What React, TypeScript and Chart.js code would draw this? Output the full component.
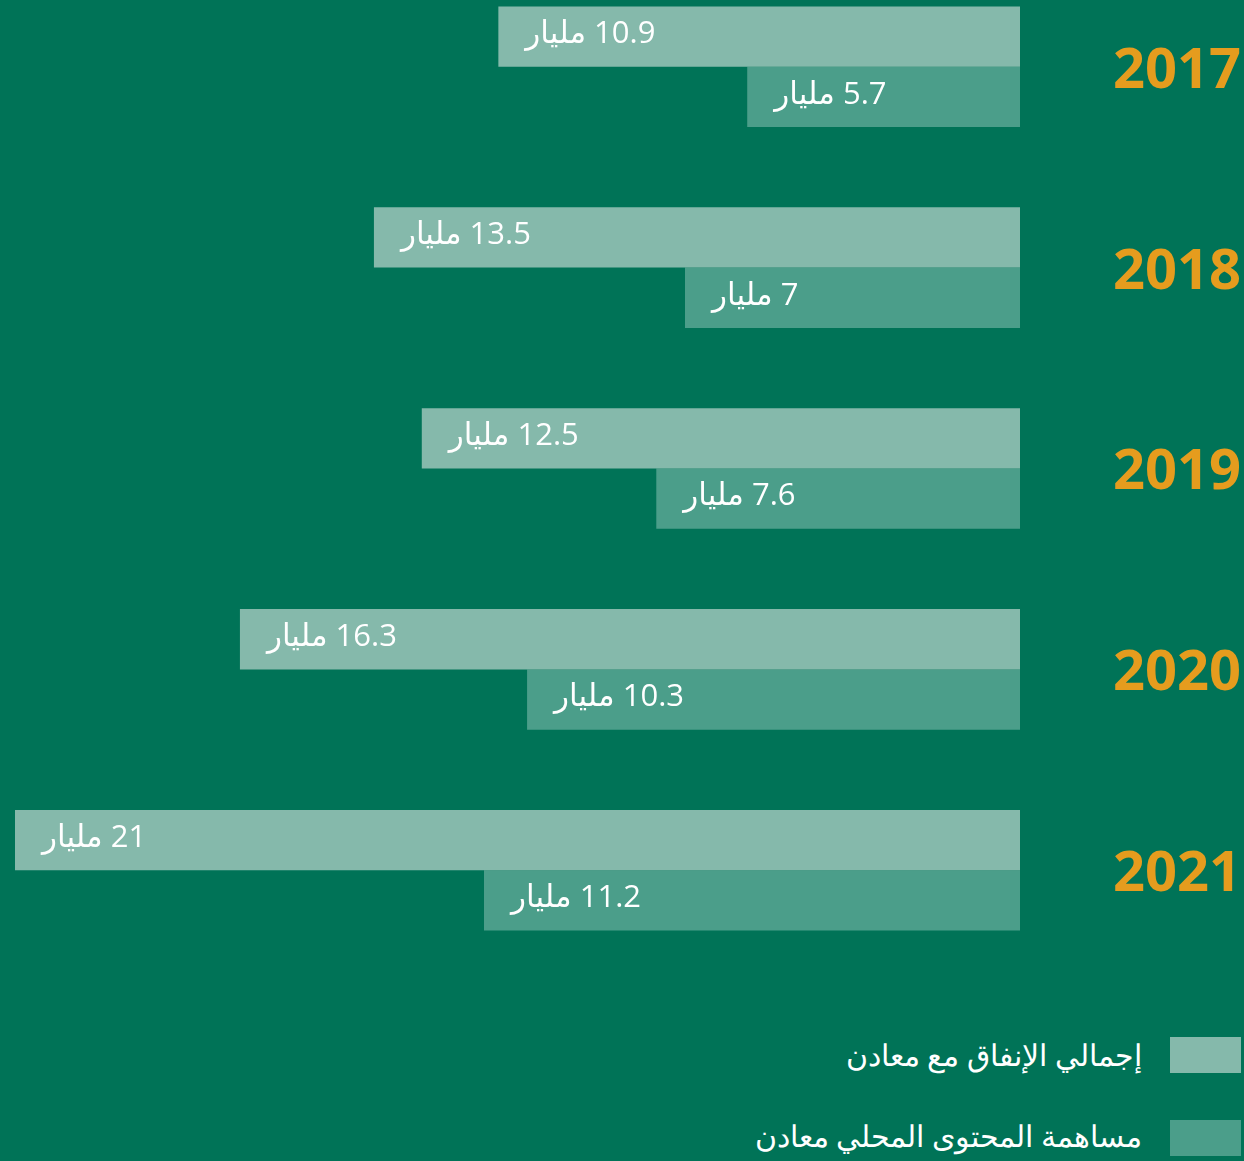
import React, { useEffect, useRef } from "react";
import { Chart, registerables } from "chart.js";

Chart.register(...registerables);

const years = ["2017", "2018", "2019", "2020", "2021"];
const totalSpend = [10.9, 13.5, 12.5, 16.3, 21];
const localContent = [5.7, 7, 7.6, 10.3, 11.2];
const seriesNames = ["إجمالي الإنفاق مع معادن", "مساهمة المحتوى المحلي معادن"];
const unitWord = "مليار";

const BG = "#007357";
const LIGHT = "#85B9AB";
const DARK = "#4B9E8A";
const ORANGE = "#E59C1E";
const FONT = "'Open Sans', 'DejaVu Sans', sans-serif";

const labelPlugin = {
  id: "barLabels",
  afterDatasetsDraw(chart: any) {
    const ctx = chart.ctx;
    ctx.save();
    ctx.fillStyle = "#ffffff";
    ctx.font = `400 31px ${FONT}`;
    ctx.textBaseline = "middle";
    ctx.textAlign = "left";
    (ctx as any).direction = "rtl";
    chart.data.datasets.forEach((ds: any, di: number) => {
      const meta = chart.getDatasetMeta(di);
      meta.data.forEach((el: any, i: number) => {
        const v = ds.data[i];
        ctx.fillText(`${v} ${unitWord}`, el.x + 27, el.y - 2);
      });
    });
    ctx.restore();
  },
};

export default function App() {
  const ref = useRef<HTMLCanvasElement>(null);
  useEffect(() => {
    document.body.style.margin = "0";
    document.body.style.background = BG;
    document.body.style.overflow = "hidden";
    const chart = new Chart(ref.current!, {
      type: "bar",
      data: {
        labels: years,
        datasets: [
          { label: seriesNames[0], data: totalSpend, backgroundColor: LIGHT, borderWidth: 0 },
          { label: seriesNames[1], data: localContent, backgroundColor: DARK, borderWidth: 0 },
        ],
      },
      options: {
        indexAxis: "y",
        responsive: false,
        animation: false,
        layout: { padding: { left: 15, right: 0, top: 0, bottom: 0 } },
        datasets: { bar: { categoryPercentage: 0.6, barPercentage: 1 } },
        plugins: { legend: { display: false }, tooltip: { enabled: false } },
        scales: {
          x: { type: "linear", min: 0, max: 21, reverse: true, display: false },
          y: {
            position: "right",
            grid: { display: false, drawTicks: true, tickLength: 93 },
            border: { display: false },
            ticks: {
              color: ORANGE,
              font: { family: FONT, size: 56, weight: "bold", lineHeight: 0.01 },
              padding: 0,
              crossAlign: "near",
              labelOffset: 5,
              autoSkip: false,
            },
            afterFit(scale: any) {
              scale.width = 224;
            },
          },
        },
      } as any,
      plugins: [labelPlugin],
    });
    return () => chart.destroy();
  }, []);

  const legendText: React.CSSProperties = {
    position: "absolute",
    right: 1244 - 1142,
    color: "#ffffff",
    fontFamily: FONT,
    fontWeight: 300,
    fontSize: 30,
    direction: "rtl",
    whiteSpace: "nowrap",
    lineHeight: "36px",
  };

  return (
    <div style={{ position: "relative", width: 1244, height: 1161, background: BG, overflow: "hidden" }}>
      <canvas ref={ref} width={1244} height={1005} style={{ position: "absolute", left: 0, top: -34 }} />
      <div style={{ position: "absolute", left: 1170, top: 1037, width: 71, height: 36, background: LIGHT }} />
      <div style={{ ...legendText, top: 1037 }}>{seriesNames[0]}</div>
      <div style={{ position: "absolute", left: 1170, top: 1120, width: 71, height: 36, background: DARK }} />
      <div style={{ ...legendText, top: 1118 }}>{seriesNames[1]}</div>
    </div>
  );
}
